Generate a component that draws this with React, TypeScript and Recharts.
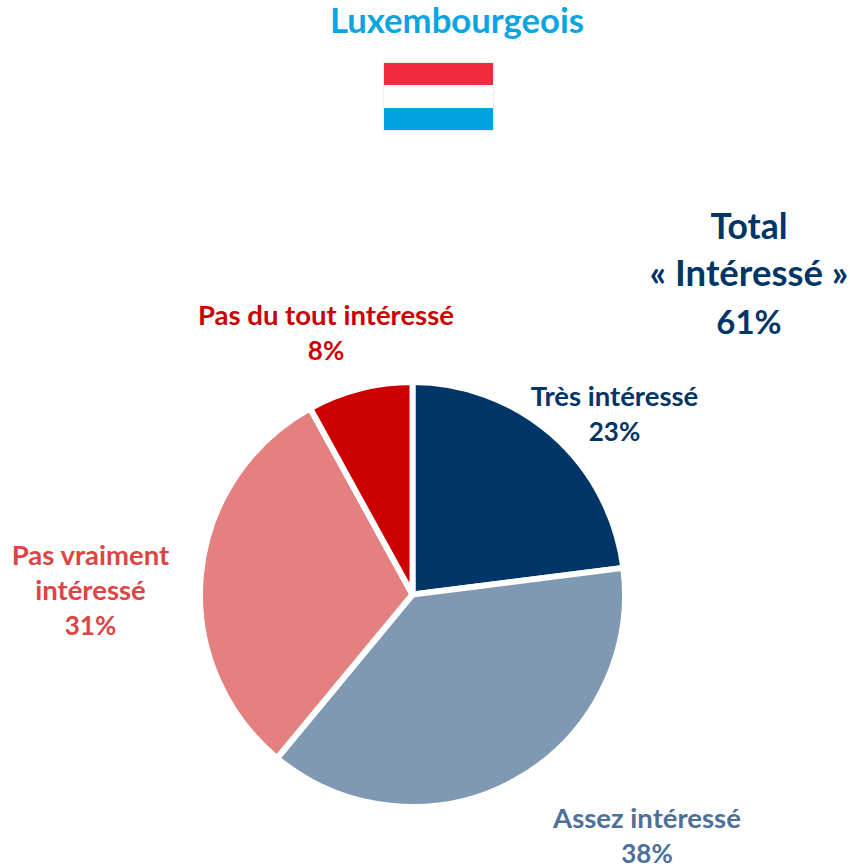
import { PieChart, Pie, Cell } from 'recharts';

const categories = ['Très intéressé', 'Assez intéressé', 'Pas vraiment intéressé', 'Pas du tout intéressé'];
const values = [23, 38, 31, 8];
const sliceColors = ['#003567', '#8099B3', '#E48080', '#CC0000'];
const labelColors = ['#003567', '#4D7097', '#DD4444', '#CC0000'];
// label lines, and where each label block sits relative to the pie centre
const labelLines = [['Très intéressé'], ['Assez intéressé'], ['Pas vraiment', 'intéressé'], ['Pas du tout intéressé']];
const labelOffsets = [
  [202, -188.5],
  [234.5, 233.5],
  [-322, -29.5],
  [-86.5, -269.5],
];

const FONT = 'Lato, sans-serif';
const data = categories.map((name, i) => ({ name, value: values[i] }));

const renderLabel = ({ cx, cy, index, value }: any) => {
  const [dx, dy] = labelOffsets[index];
  const lines = labelLines[index];
  return (
    <text
      key={index}
      x={cx + dx}
      y={cy + dy}
      textAnchor="middle"
      fill={labelColors[index]}
      fontFamily={FONT}
      fontWeight={700}
      fontSize={27.5}
    >
      {lines.map((line, i) => (
        <tspan key={i} x={cx + dx} dy={i === 0 ? 0 : 35}>
          {line}
        </tspan>
      ))}
      <tspan x={cx + dx} dy={35} fontSize={26}>
        {`${value}%`}
      </tspan>
    </text>
  );
};

const centered = (x: number, y: number, size: number, color: string) => ({
  position: 'absolute' as const,
  left: x - 300,
  top: y - 30,
  width: 600,
  height: 60,
  lineHeight: '60px',
  textAlign: 'center' as const,
  fontFamily: FONT,
  fontWeight: 700,
  fontSize: size,
  color,
  whiteSpace: 'nowrap' as const,
});

export default function App() {
  return (
    <div style={{ position: 'absolute', left: 0, top: 0, width: 850, height: 867, background: '#fff', overflow: 'hidden' }}>
      <div style={centered(457, 20, 34.7, '#0AA5E0')}>Luxembourgeois</div>

      <div style={{ position: 'absolute', left: 384, top: 63, width: 109, height: 67, boxShadow: '0 0 0 1px #eee' }}>
        <div style={{ height: 22, background: '#EF2B3D' }} />
        <div style={{ height: 23, background: '#fff' }} />
        <div style={{ height: 22, background: '#00A3E0' }} />
      </div>

      <div style={centered(749, 226, 35.5, '#003567')}>Total</div>
      <div style={centered(749, 272, 36.5, '#003567')}>« Intéressé »</div>
      <div style={centered(749, 321, 33, '#003567')}>61%</div>

      <PieChart width={850} height={867} margin={{ top: 0, right: 0, bottom: 0, left: 0 }} style={{ position: 'absolute', left: 0, top: 0 }}>
        <Pie
          data={data}
          dataKey="value"
          cx={412.5}
          cy={594.5}
          outerRadius={212.5}
          startAngle={90}
          endAngle={-270}
          stroke="#fff"
          strokeWidth={6}
          labelLine={false}
          label={renderLabel}
          isAnimationActive={false}
        >
          {data.map((d, i) => (
            <Cell key={d.name} fill={sliceColors[i]} />
          ))}
        </Pie>
      </PieChart>
    </div>
  );
}
